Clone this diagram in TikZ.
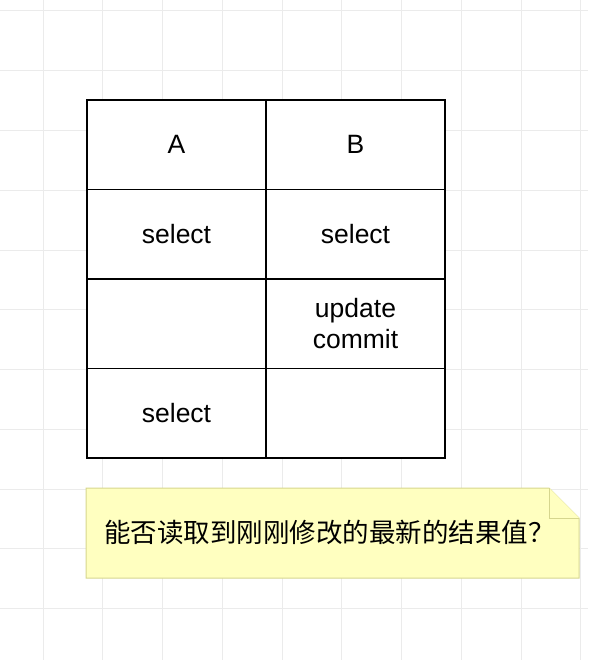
\documentclass[tikz,border=0pt]{standalone}
\usepackage{fontspec}
\setmainfont{Liberation Sans}
\newfontfamily\cjk{Noto Sans CJK SC}
\definecolor{gridgray}{HTML}{EBEBEB}
\definecolor{notefill}{HTML}{FFFFC0}
\definecolor{noteline}{HTML}{D6D68E}
\tikzset{
  gridline/.style={gridgray, line width=1pt},
  cell/.style={draw, fill=white, line width=1.3pt, minimum width=179pt, minimum height=89.5pt,
    inner sep=0pt, align=center, font=\fontsize{26.5}{31}\selectfont},
  notetext/.style={anchor=west, inner sep=0pt, font=\cjk\fontsize{26.5}{32}\selectfont}
}
\begin{document}
\begin{tikzpicture}[x=1pt,y=-1pt]
% Set the canvas to the size of the screenshot
\useasboundingbox (0,0) rectangle (588,660);

% Draw the background grid
\foreach \k in {0,...,9}
  \draw[gridline] ({43+59.75*\k},0) -- ++(0,660);
\foreach \k in {0,...,10}
  \draw[gridline] (0,{11+59.75*\k}) -- ++(588,0);

% Draw the table, column A and column B
\node[cell] (a1) at (176.5, 144.75) {A};
\node[cell] (b1) at (355.5, 144.75) {B};
\node[cell] (a2) at (176.5, 234.25) {select};
\node[cell] (b2) at (355.5, 234.25) {select};
\node[cell] (a3) at (176.5, 323.75) {};
\node[cell] (b3) at (355.5, 323.75) {update\\commit};
\node[cell] (a4) at (176.5, 413.25) {select};
\node[cell] (b4) at (355.5, 413.25) {};

% Draw the note with its folded corner
\draw[noteline, fill=notefill, line width=1pt] (86,488) -- (549,488) -- (579,518) -- (579,578) -- (86,578) -- cycle;
\draw[noteline, fill=notefill, line width=1pt] (549,488) -- (549,518) -- (579,518);
\node[notetext] (question) at (104,532) {能否读取到刚刚修改的最新的结果值？};
\end{tikzpicture}
\end{document}
